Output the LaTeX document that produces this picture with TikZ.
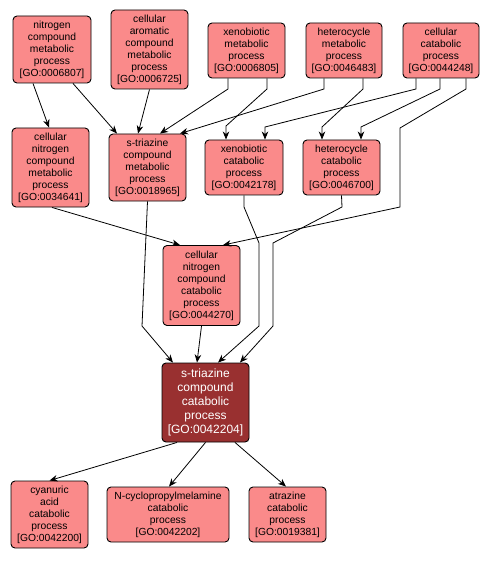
\documentclass[tikz,border=0pt]{standalone}
\usepackage{fontspec}
\setmainfont{Liberation Sans}
\usepackage{xcolor}
\usetikzlibrary{arrows.meta}
\definecolor{termpink}{HTML}{FA8A8A}
\definecolor{termdark}{HTML}{993030}
\tikzstyle{goterm} = [rectangle, rounded corners=4pt, minimum width=77pt, inner sep=2pt, align=center, draw=black, line width=0.9pt, fill=termpink, font=\fontsize{10.3}{12}\selectfont]
\tikzstyle{focus} = [goterm, fill=termdark, text=white, font=\fontsize{12}{14}\selectfont]
\tikzstyle{arrow} = [line width=0.8pt, -{Stealth[length=8pt,width=6.5pt,inset=2.5pt]}]

\begin{document}
\begin{tikzpicture}[x=1pt, y=-1pt]
\useasboundingbox (0,0) rectangle (490,561);
% top row
\node (nitmeta) [goterm, minimum width=78pt, minimum height=67pt] at (52,49.5) {nitrogen\\compound\\metabolic\\process\\{[GO:0006807]}};
\node (arometa) [goterm, minimum height=79pt] at (149.5,49.5) {cellular\\aromatic\\compound\\metabolic\\process\\{[GO:0006725]}};
\node (xenometa) [goterm, minimum height=55pt] at (246.5,50.5) {xenobiotic\\metabolic\\process\\{[GO:0006805]}};
\node (hetmeta) [goterm, minimum width=76pt, minimum height=55pt] at (344,50.5) {heterocycle\\metabolic\\process\\{[GO:0046483]}};
\node (cellcat) [goterm, minimum width=76pt, minimum height=55pt] at (441,50.5) {cellular\\catabolic\\process\\{[GO:0044248]}};
% second row
\node (cnitmeta) [goterm, minimum height=79pt] at (50.5,167.5) {cellular\\nitrogen\\compound\\metabolic\\process\\{[GO:0034641]}};
\node (trimeta) [goterm, minimum height=67pt] at (147.5,167.5) {s-triazine\\compound\\metabolic\\process\\{[GO:0018965]}};
\node (xenocat) [goterm, minimum width=78pt, minimum height=55pt] at (244,167.5) {xenobiotic\\catabolic\\process\\{[GO:0042178]}};
\node (hetcat) [goterm, minimum height=55pt] at (341.5,167.5) {heterocycle\\catabolic\\process\\{[GO:0046700]}};
% middle
\node (cnitcat) [goterm, minimum height=80pt] at (201.5,285.5) {cellular\\nitrogen\\compound\\catabolic\\process\\{[GO:0044270]}};
\node (tricat) [focus, minimum width=87pt, minimum height=79pt] at (205.5,402.5) {s-triazine\\compound\\catabolic\\process\\{[GO:0042204]}};
% bottom row
\node (cyancat) [goterm, minimum height=67pt] at (49.5,514.5) {cyanuric\\acid\\catabolic\\process\\{[GO:0042200]}};
\node (cyclocat) [goterm, minimum width=122pt, minimum height=55pt] at (168,514.5) {N-cyclopropylmelamine\\catabolic\\process\\{[GO:0042202]}};
\node (atracat) [goterm, minimum height=55pt] at (287.5,514.5) {atrazine\\catabolic\\process\\{[GO:0019381]}};
% edges
\draw [arrow] ([xshift=-19pt]nitmeta.south) -- ([xshift=-1.5pt]cnitmeta.north);
\draw [arrow] ([xshift=21pt]nitmeta.south) -- ([xshift=-30.5pt]trimeta.north);
\draw [arrow] (arometa.south) -- ([xshift=-9.5pt]trimeta.north);
\draw [arrow] ([xshift=-18.5pt]xenometa.south) -- (228,89) -- ([xshift=12.5pt]trimeta.north);
\draw [arrow] ([xshift=20.5pt]xenometa.south) -- (267,89) -- (226,126) -- ([xshift=-18pt]xenocat.north);
\draw [arrow] ([xshift=-20pt]hetmeta.south) -- (324,89) -- ([xshift=32.5pt]trimeta.north);
\draw [arrow] ([xshift=19pt]hetmeta.south) -- (363,89) -- (322,127) -- ([xshift=-19.5pt]hetcat.north);
\draw [arrow] ([xshift=-25pt]cellcat.south) -- (416,89) -- (265,127) -- ([xshift=21pt]xenocat.north);
\draw [arrow] ([xshift=-1pt]cellcat.south) -- (440,89) -- (361,127) -- ([xshift=19.5pt]hetcat.north);
\draw [arrow] ([xshift=25pt]cellcat.south) -- (466,89) -- (400,128) -- (400,207) -- ([xshift=21.5pt]cnitcat.north);
\draw [arrow] ([xshift=1.5pt]cnitmeta.south) -- ([xshift=-21.5pt]cnitcat.north);
\draw [arrow] (trimeta.south) -- (142,326) -- ([xshift=-32.5pt]tricat.north);
\draw [arrow] (xenocat.south) -- (244,207) -- (259,243) -- (259,326) -- ([xshift=12.5pt]tricat.north);
\draw [arrow] (hetcat.south) -- (342,207) -- (273,243) -- (273,326) -- ([xshift=34.5pt]tricat.north);
\draw [arrow] (cnitcat.south) -- ([xshift=-8.5pt]tricat.north);
\draw [arrow] ([xshift=-28.5pt]tricat.south) -- (cyancat.north);
\draw [arrow] (tricat.south) -- ([xshift=1pt]cyclocat.north);
\draw [arrow] ([xshift=29.5pt]tricat.south) -- ([xshift=-1.5pt]atracat.north);
\end{tikzpicture}
\end{document}
